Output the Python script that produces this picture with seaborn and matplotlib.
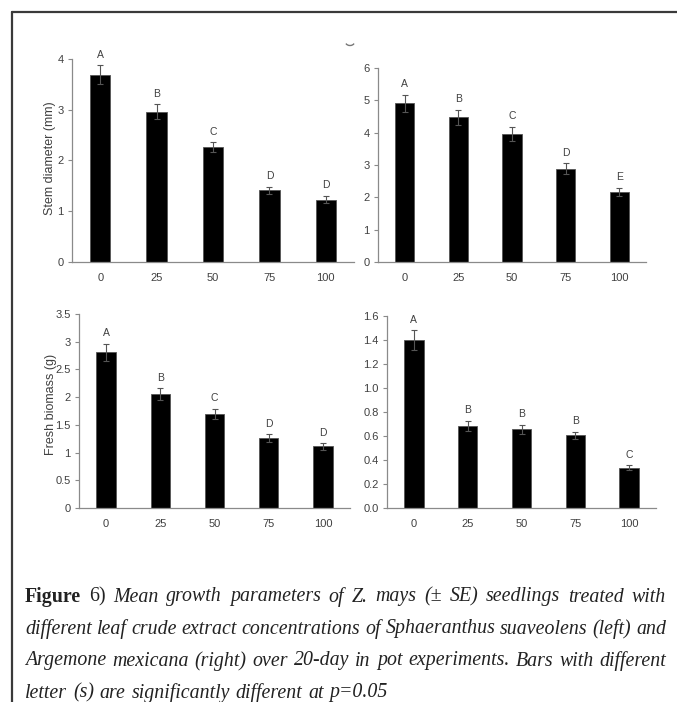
import matplotlib
matplotlib.use('Agg')
import matplotlib.pyplot as plt
import seaborn as sns
from matplotlib.lines import Line2D
from matplotlib.patches import Arc

# ---------------- data ----------------
concentrations = ['0', '25', '50', '75', '100']

stem_ss = [3.69, 2.96, 2.26, 1.41, 1.23]
stem_ss_se = [0.19, 0.15, 0.10, 0.07, 0.07]
stem_ss_letters = ['A', 'B', 'C', 'D', 'D']

stem_am = [4.91, 4.47, 3.96, 2.88, 2.17]
stem_am_se = [0.26, 0.23, 0.22, 0.17, 0.12]
stem_am_letters = ['A', 'B', 'C', 'D', 'E']

bio_ss = [2.81, 2.05, 1.70, 1.26, 1.11]
bio_ss_se = [0.15, 0.11, 0.09, 0.07, 0.06]
bio_ss_letters = ['A', 'B', 'C', 'D', 'D']

bio_am = [1.40, 0.685, 0.655, 0.605, 0.335]
bio_am_se = [0.08, 0.04, 0.04, 0.03, 0.02]
bio_am_letters = ['A', 'B', 'B', 'B', 'C']

stem_ticks = [0, 1, 2, 3, 4]
stem_am_ticks = [0, 1, 2, 3, 4, 5, 6]
bio_ss_ticks = [0, 0.5, 1, 1.5, 2, 2.5, 3, 3.5]
bio_ss_ticklabels = ['0', '0.5', '1', '1.5', '2', '2.5', '3', '3.5']
bio_am_ticks = [0.0, 0.2, 0.4, 0.6, 0.8, 1.0, 1.2, 1.4, 1.6]
bio_am_ticklabels = ['0.0', '0.2', '0.4', '0.6', '0.8', '1.0', '1.2', '1.4', '1.6']

caption_head = ["Figure", "6)"]
caption_lines = [
    "Mean growth parameters of Z. mays (± SE) seedlings treated with",
    "different leaf crude extract concentrations of Sphaeranthus suaveolens (left) and",
    "Argemone mexicana (right) over 20-day in pot experiments. Bars with different",
    "letter (s) are significantly different at p=0.05",
]

# ---------------- figure ----------------
sns.set_style('white')
plt.rcParams['font.family'] = ['Liberation Sans', 'DejaVu Sans']

W, H = 677, 702
fig = plt.figure(figsize=(W / 100, H / 100), dpi=100)


def px_axes(left, right, bottom, top):
    return fig.add_axes([left / W, 1 - bottom / H, (right - left) / W, (bottom - top) / H])


SPINE = '#8a8a8a'
TXT = '#404040'


def panel(ax, vals, se, letters, ylim, yticks, yticklabels, ylabel, label_xy):
    sns.barplot(x=concentrations, y=vals, color='black', width=0.36,
                errorbar=None, ax=ax, edgecolor='#555555', linewidth=0.6,
                saturation=1)
    centers = [p.get_x() + p.get_width() / 2 for p in ax.patches]
    ax.errorbar(centers, vals, yerr=se, fmt='none', ecolor='#555555',
                elinewidth=0.8, capsize=2, capthick=0.8)
    for c, v, s, l in zip(centers, vals, se, letters):
        ax.annotate(l, (c, v + s), xytext=(0, 4), textcoords='offset points',
                    ha='center', va='bottom', fontsize=7.5, color=TXT)
    ax.set_xlim(-0.5, 4.5)
    ax.set_ylim(*ylim)
    ax.set_yticks(yticks)
    ax.set_yticklabels(yticklabels)
    ax.set_xticks(range(len(concentrations)))
    ax.set_xticklabels(concentrations)
    ax.set_xticks([i - 0.5 for i in range(len(concentrations) + 1)], minor=True)
    ax.tick_params(axis='x', which='major', length=0, pad=8, labelsize=8, labelcolor=TXT)
    ax.tick_params(axis='x', which='minor', length=3, direction='out', color=SPINE, width=0.8)
    ax.tick_params(axis='y', which='major', length=3, direction='out', color=SPINE,
                   width=0.8, pad=3, labelsize=8, labelcolor=TXT, left=True)
    for side in ['top', 'right']:
        ax.spines[side].set_visible(False)
    for side in ['left', 'bottom']:
        ax.spines[side].set_color(SPINE)
        ax.spines[side].set_linewidth(0.9)
    ax.set_xlabel('')
    if ylabel:
        ax.set_ylabel(ylabel, fontsize=9.0, color=TXT)
        ax.yaxis.set_label_coords(*label_xy)
    else:
        ax.set_ylabel('')
    ax.set_facecolor('white')


ax1 = px_axes(72, 354, 262, 59)
panel(ax1, stem_ss, stem_ss_se, stem_ss_letters, (0, 4), stem_ticks,
      [str(t) for t in stem_ticks], 'Stem diameter (mm)', (-0.055, 0.51))

ax2 = px_axes(378, 646, 262, 68)
panel(ax2, stem_am, stem_am_se, stem_am_letters, (0, 6), stem_am_ticks,
      [str(t) for t in stem_am_ticks], None, None)

ax3 = px_axes(79, 350, 508, 314)
panel(ax3, bio_ss, bio_ss_se, bio_ss_letters, (0, 3.5), bio_ss_ticks,
      bio_ss_ticklabels, 'Fresh biomass (g)', (-0.083, 0.535))

ax4 = px_axes(387, 656, 508, 316)
panel(ax4, bio_am, bio_am_se, bio_am_letters, (0, 1.6), bio_am_ticks,
      bio_am_ticklabels, None, None)

# frame lines
fig.add_artist(Line2D([12 / W, 12 / W], [0, 1 - 12 / H], color='#3a3a3a', lw=1.6))
fig.add_artist(Line2D([12 / W, 1], [1 - 12 / H, 1 - 12 / H], color='#3a3a3a', lw=1.6))
# small stray mark present in the source image
fig.add_artist(Arc((350 / W, 1 - 42 / H), 9 / W, 7 / H, theta1=200, theta2=340,
                   transform=fig.transFigure, color='#777777', lw=1.0))

# ---------------- caption (justified) ----------------
renderer = fig.canvas.get_renderer()
cap_left, cap_right = 25, 666
line_y = [597, 629, 661, 693]
cap_size = 14.3
cap_color = '#222222'
FAM = 'Liberation Serif'

probe = fig.text(0, 0, '', fontsize=cap_size, family=FAM)


def ink_w(s, style='italic', weight='normal'):
    probe.set_text(s)
    probe.set_fontstyle(style)
    probe.set_fontweight(weight)
    return probe.get_window_extent(renderer).width


space_w = ink_w('a a') - ink_w('aa')

for li, (line, y) in enumerate(zip(caption_lines, line_y)):
    words = line.split(' ')
    offsets = []
    for k in range(len(words)):
        full = ' '.join(words[:k + 1])
        offsets.append(ink_w(full) - ink_w(words[k]))
    run_w = ink_w(line)
    start = cap_left
    items = []
    if li == 0:
        wf = ink_w(caption_head[0], 'normal', 'bold')
        w6 = ink_w(caption_head[1], 'normal', 'normal')
        items.append((0, caption_head[0], 'normal', 'bold'))
        items.append((wf + space_w, caption_head[1], 'normal', 'normal'))
        run_start = wf + space_w + w6 + space_w
        total_nat = run_start + run_w
    else:
        run_start = 0
        total_nat = run_w
    for off, w in zip(offsets, words):
        items.append((run_start + off, w, 'italic', 'normal'))
    n_gaps = len(items) - 1
    if li < len(caption_lines) - 1:
        extra = (cap_right - cap_left - total_nat) / n_gaps
    else:
        extra = 0.8
    for k, (off, w, st, wt) in enumerate(items):
        fig.text((start + off + extra * k) / W, 1 - y / H, w, fontsize=cap_size,
                 family=FAM, fontstyle=st, fontweight=wt, color=cap_color,
                 va='center', ha='left')

probe.set_text('')

fig.savefig('out.png', dpi=100, facecolor='white')
